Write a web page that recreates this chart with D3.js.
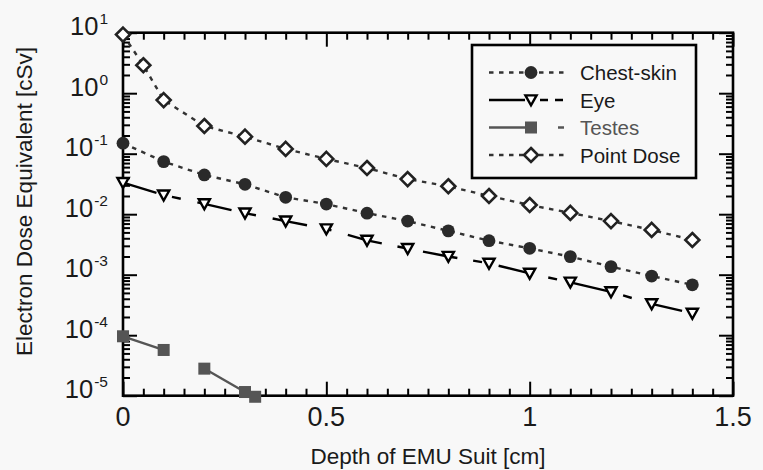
<!DOCTYPE html>
<html>
<head>
<meta charset="utf-8">
<script src="https://cdn.jsdelivr.net/npm/d3@7/dist/d3.min.js"></script>
<style>
  html, body { margin: 0; padding: 0; background: #f8f8f8; }
  svg { display: block; font-family: "Liberation Sans", Arial, Helvetica, sans-serif; }
</style>
</head>
<body>
<svg id="chart" width="763" height="470"></svg>
<script>
// Depth of EMU suit [cm]
const depth = [0, 0.1, 0.2, 0.3, 0.4, 0.5, 0.6, 0.7, 0.8, 0.9, 1.0, 1.1, 1.2, 1.3, 1.4];
const pointDepth = [0, 0.05, 0.1, 0.2, 0.3, 0.4, 0.5, 0.6, 0.7, 0.8, 0.9, 1.0, 1.1, 1.2, 1.3, 1.4];
const testesDepth = [0, 0.1, 0.2, 0.3, 0.325];

// Electron dose equivalent [cSv]
const chestSkin = [0.149, 0.074, 0.0445, 0.0312, 0.019, 0.0147, 0.0104, 0.0077, 0.0053, 0.00365, 0.00273, 0.00199, 0.00136, 0.00095, 0.00068];
const eye = [0.0332, 0.0207, 0.0148, 0.0104, 0.0077, 0.0057, 0.0037, 0.0027, 0.0020, 0.00154, 0.00105, 0.00075, 0.00052, 0.00033, 0.00023];
const testes = [9.6e-5, 5.7e-5, 2.8e-5, 1.15e-5, 9.6e-6];
const pointDose = [9.3, 2.9, 0.77, 0.287, 0.191, 0.12, 0.082, 0.058, 0.038, 0.029, 0.020, 0.0142, 0.0105, 0.0077, 0.0055, 0.00375];

const seriesNames = ["Chest-skin", "Eye", "Testes", "Point Dose"];
const xTickLabels = ["0", "0.5", "1", "1.5"];
const yDecades = [-5, -4, -3, -2, -1, 0, 1];

const svg = d3.select("#chart");
const L = 123, R = 733, T = 32.7, B = 395.7;

const x = d3.scaleLinear().domain([0, 1.5]).range([L, R]);
const y = d3.scaleLog().domain([1e-5, 10]).range([B, T]);

const ink = "#1a1a1a";
const grey = "#555555";

// ---- axes: ticks on all four sides, pointing inward
const xMinor = d3.range(0, 31).map(i => i * 0.05).filter(v => Math.abs(v * 2 - Math.round(v * 2)) > 1e-6);
const xMajor = [0, 0.5, 1, 1.5];
const yMajor = yDecades.map(e => Math.pow(10, e));
const yMinor = [];
for (let e = -5; e < 1; e++) for (let m = 2; m <= 9; m++) yMinor.push(m * Math.pow(10, e));

function tickAxis(axisFn, scale, values, size, transform) {
  const g = svg.append("g").attr("transform", transform)
    .call(axisFn(scale).tickValues(values).tickSize(size).tickFormat(""));
  g.select(".domain").remove();
  g.selectAll(".tick line").attr("stroke", "#000").attr("stroke-width", 2);
  return g;
}
// bottom & top
tickAxis(d3.axisBottom, x, xMinor, -7, `translate(0,${B})`);
tickAxis(d3.axisBottom, x, xMajor, -14, `translate(0,${B})`);
tickAxis(d3.axisTop, x, xMinor, -7, `translate(0,${T})`);
tickAxis(d3.axisTop, x, xMajor, -14, `translate(0,${T})`);
// left & right
tickAxis(d3.axisLeft, y, yMinor, -7, `translate(${L},0)`);
tickAxis(d3.axisLeft, y, yMajor, -14, `translate(${L},0)`);
tickAxis(d3.axisRight, y, yMinor, -7, `translate(${R},0)`);
tickAxis(d3.axisRight, y, yMajor, -14, `translate(${R},0)`);

// frame
svg.append("rect")
  .attr("x", L).attr("y", T).attr("width", R - L).attr("height", B - T)
  .attr("fill", "none").attr("stroke", "#000").attr("stroke-width", 2.6);

// x tick labels
svg.append("g").selectAll("text").data(xMajor).join("text")
  .attr("x", d => x(d)).attr("y", B + 30.5)
  .attr("text-anchor", "middle").attr("font-size", 27).attr("fill", ink)
  .text((d, i) => xTickLabels[i]);

// y tick labels: 10 with superscript exponent
const yLab = svg.append("g").selectAll("text").data(yDecades).join("text")
  .attr("x", 108).attr("y", d => y(Math.pow(10, d)) + 2.5)
  .attr("text-anchor", "end").attr("font-size", 25.5).attr("fill", ink);
yLab.append("tspan").text("10");
yLab.append("tspan").attr("font-size", 15.5).attr("dy", -11).attr("dx", 1).text(d => String(d));

// axis titles
svg.append("text")
  .attr("x", (L + R) / 2).attr("y", 464)
  .attr("text-anchor", "middle").attr("font-size", 22.5).attr("fill", ink)
  .text("Depth of EMU Suit [cm]");
svg.append("text")
  .attr("transform", `translate(32,201.5) rotate(-90)`)
  .attr("text-anchor", "middle").attr("font-size", 22.5).attr("fill", ink)
  .text("Electron Dose Equivalent [cSv]");

// ---- series
const series = [
  { name: seriesNames[0], xs: depth, ys: chestSkin, color: "#333", dash: "4.5,5.5", marker: "circle", legendDash: "4.5,5.5" },
  { name: seriesNames[1], xs: depth, ys: eye, color: "#000", dash: "35,16,9,17", marker: "tri", legendDash: "36,15,8,7,8,20" },
  { name: seriesNames[2], xs: testesDepth, ys: testes, color: grey, dash: "41,48", marker: "square", legendDash: "37,32,6,20" },
  { name: seriesNames[3], xs: pointDepth, ys: pointDose, color: "#333", dash: "4.5,5.5", marker: "diamond", legendDash: "4.5,5.5" }
];

const line = d3.line().x(d => x(d[0])).y(d => y(d[1]));

function drawMarker(g, kind, color) {
  if (kind === "circle") {
    g.append("circle").attr("r", 6.4).attr("fill", "#2a2a2a");
  } else if (kind === "tri") {
    g.append("path").attr("d", "M-5.6,-4.6L5.6,-4.6L0,5.4Z")
      .attr("fill", "#fff").attr("stroke", "#000").attr("stroke-width", 2.4).attr("stroke-linejoin", "miter");
  } else if (kind === "square") {
    g.append("rect").attr("x", -6).attr("y", -6).attr("width", 12).attr("height", 12).attr("fill", color);
  } else if (kind === "diamond") {
    g.append("path").attr("d", "M0,-7L7,0L0,7L-7,0Z")
      .attr("fill", "#fff").attr("stroke", "#222").attr("stroke-width", 2.6);
  }
}

const plot = svg.append("g");
series.forEach(s => {
  const pts = s.xs.map((v, i) => [v, s.ys[i]]);
  plot.append("path").datum(pts).attr("d", line)
    .attr("fill", "none").attr("stroke", s.color).attr("stroke-width", 2.4)
    .attr("stroke-dasharray", s.dash);
  plot.append("g").selectAll("g").data(pts).join("g")
    .attr("transform", d => `translate(${x(d[0])},${y(d[1])})`)
    .each(function () { drawMarker(d3.select(this), s.marker, s.color); });
});

// ---- legend
const leg = svg.append("g");
leg.append("rect").attr("x", 472).attr("y", 45).attr("width", 224).attr("height", 133)
  .attr("fill", "#f8f8f8").attr("stroke", "#000").attr("stroke-width", 2.6);
series.forEach((s, i) => {
  const cy = 72.5 + i * 27.5;
  leg.append("line").attr("x1", 489).attr("x2", 568).attr("y1", cy).attr("y2", cy)
    .attr("stroke", s.color).attr("stroke-width", 2.4).attr("stroke-dasharray", s.legendDash);
  drawMarker(leg.append("g").attr("transform", `translate(531,${cy})`), s.marker, s.color);
  leg.append("text").attr("x", 580).attr("y", cy + 7.5)
    .attr("font-size", 20.5).attr("fill", s.name === "Testes" ? grey : ink)
    .text(s.name);
});
</script>
</body>
</html>
